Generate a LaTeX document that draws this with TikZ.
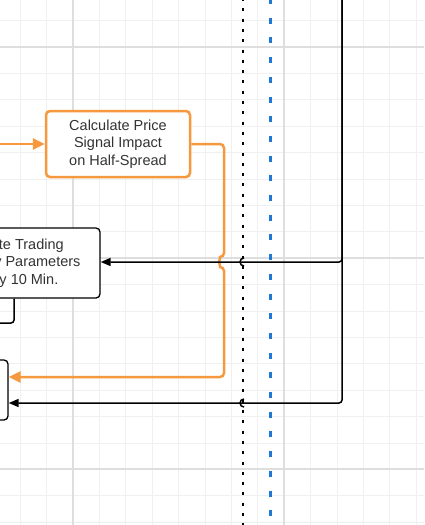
\documentclass[tikz,border=0pt]{standalone}
\usepackage{fontspec}
\setmainfont{Liberation Sans}
\usetikzlibrary{arrows.meta}
\definecolor{sigorange}{RGB}{245,152,62}
\definecolor{laneblue}{RGB}{32,120,214}
\definecolor{txtgrey}{RGB}{51,51,51}
\begin{document}
\begin{tikzpicture}[
    x=1pt, y=-1pt,
    mybox/.style={draw=black, line width=1.3pt, rounded corners=4pt, fill=white, align=center,
        text=txtgrey, font=\fontsize{14.5}{17.5}\selectfont, inner sep=0pt},
    myorangebox/.style={mybox, draw=sigorange, line width=2.5pt},
    myedge/.style={line width=1.5pt, rounded corners=3pt, -{Triangle[length=10pt,width=8pt]}},
    myorangeedge/.style={draw=sigorange, line width=2.5pt, rounded corners=4pt,
        -{Triangle[length=12pt,width=11pt]}},
    myhop/.style={line width=1.5pt},
    minorgrid/.style={draw=black!6, line width=0.8pt},
    majorgrid/.style={draw=black!13, line width=1.2pt}
]
    \useasboundingbox (0,0) rectangle (424,525);
    \clip (0,0) rectangle (424,525);

    % background grid
    \foreach \k in {-2,...,13} {
        \draw[minorgrid] (73+26.4*\k,0) -- (73+26.4*\k,525);
    }
    \foreach \k in {-1,...,18} {
        \draw[minorgrid] (0,47+26.4*\k) -- (424,47+26.4*\k);
    }
    \foreach \k in {0,1} {
        \draw[majorgrid] (73+211*\k,0) -- (73+211*\k,525);
    }
    \foreach \k in {0,1,2} {
        \draw[majorgrid] (0,47+211*\k) -- (424,47+211*\k);
    }

    % lane separators
    \draw[black, line width=2.2pt, dash pattern=on 3pt off 7.3pt] (243,-2) -- (243,527);
    \draw[laneblue, line width=3pt, dash pattern=on 6pt off 13.7pt] (270,-2) -- (270,527);

    % boxes
    \node[myorangebox, minimum width=144pt, minimum height=66pt] (signal) at (118,144)
        {Calculate Price\\Signal Impact\\on Half-Spread};
    \node[mybox, minimum width=172pt, minimum height=70pt] (params) at (14,263)
        {Update Trading\\Strategy Parameters\\Every 10 Min.};
    \node[mybox, minimum width=176pt, minimum height=60pt] (quote) at (-80,390) {};

    % free ends
    \coordinate (sigIn) at (-10,144);
    \coordinate (paramsOut) at (-10,323);
    \coordinate (topIn) at (342,-5);
    \coordinate (turnA) at (342,262);
    \coordinate (turnB) at (342,403);

    % orange flow
    \draw[myorangeedge] (sigIn) -- (signal.west);
    \draw[myorangeedge] (signal.east) -- (224,144) -- (224,257)
        arc[start angle=90, end angle=270, radius=5pt] -- (224,377) -- (quote.east |- 0,377);

    % black flow
    \draw[myedge] (topIn) -- (turnA) -- (params.east |- turnA);
    \draw[myedge] (topIn) -- (turnB) -- (quote.east |- turnB);
    \draw[myedge, -] (params.south) |- (paramsOut);

    % line jumps
    \draw[myhop] (244,258) arc[start angle=90, end angle=270, radius=4pt];
    \draw[myhop] (244,399) arc[start angle=90, end angle=270, radius=4pt];
\end{tikzpicture}
\end{document}
